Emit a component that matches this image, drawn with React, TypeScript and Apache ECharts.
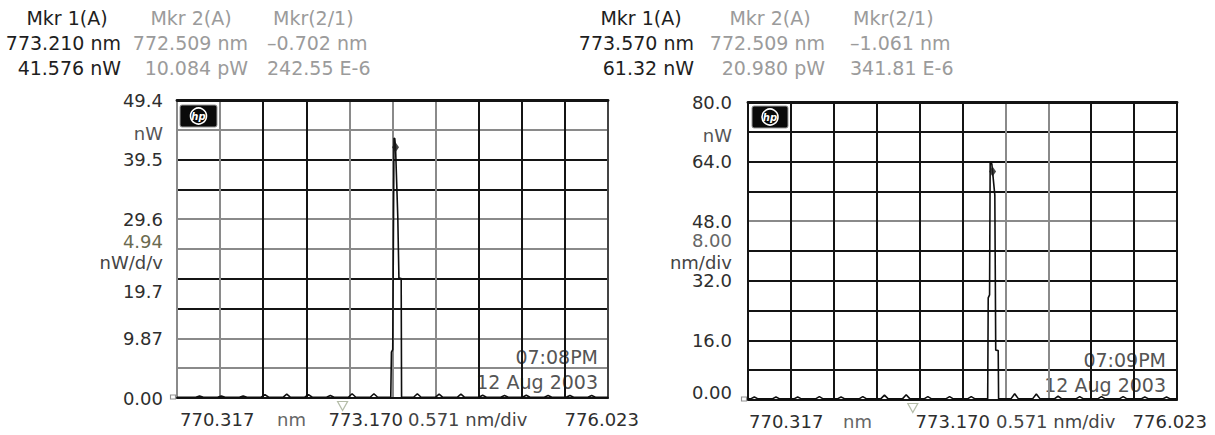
import React, { useEffect, useRef } from "react";
import * as echarts from "echarts";

// ---------- DATA ----------
// Left trace: wavelength (nm), power (nW)
const leftTrace: [number, number][] = [
  [770.317, 0.12],
  [770.566, 0.12], [770.616, 0.35], [770.666, 0.12],
  [770.854, 0.12], [770.904, 0.35], [770.954, 0.12],
  [771.143, 0.12], [771.193, 0.35], [771.243, 0.12],
  [771.431, 0.12], [771.481, 0.55], [771.531, 0.12],
  [771.720, 0.12], [771.770, 0.65], [771.820, 0.12],
  [772.008, 0.12], [772.058, 0.55], [772.108, 0.12],
  [772.297, 0.12], [772.347, 0.40], [772.397, 0.12],
  [772.585, 0.12], [772.635, 0.70], [772.685, 0.12],
  [772.874, 0.12], [772.924, 0.70], [772.974, 0.12],
  [773.147, 0.15], [773.156, 7.6], [773.173, 8.0], [773.190, 43.1], [773.200, 43.0],
  [773.210, 41.6], [773.240, 30.0], [773.255, 19.9], [773.285, 19.8], [773.290, 0.15],
  [773.449, 0.12], [773.499, 0.70], [773.549, 0.12],
  [773.737, 0.12], [773.787, 0.65], [773.837, 0.12],
  [774.026, 0.12], [774.076, 0.65], [774.126, 0.12],
  [774.314, 0.12], [774.364, 0.45], [774.414, 0.12],
  [774.603, 0.12], [774.653, 0.40], [774.703, 0.12],
  [774.891, 0.12], [774.941, 0.45], [774.991, 0.12],
  [775.180, 0.12], [775.230, 0.40], [775.280, 0.12],
  [775.469, 0.12], [775.519, 0.40], [775.569, 0.12],
  [775.757, 0.12], [775.807, 0.40], [775.857, 0.12],
  [776.023, 0.12],
];

// Right trace: wavelength (nm), power (nW)
const rightTrace: [number, number][] = [
  [770.317, 0.30],
  [770.351, 0.30], [770.401, 0.80], [770.451, 0.30],
  [770.639, 0.30], [770.689, 0.80], [770.739, 0.30],
  [770.928, 0.30], [770.978, 0.80], [771.028, 0.30],
  [771.216, 0.30], [771.266, 0.90], [771.316, 0.30],
  [771.505, 0.30], [771.555, 0.80], [771.605, 0.30],
  [771.794, 0.30], [771.844, 0.90], [771.894, 0.30],
  [772.082, 0.30], [772.132, 1.30], [772.182, 0.30],
  [772.371, 0.30], [772.421, 1.40], [772.471, 0.30],
  [772.659, 0.30], [772.709, 0.90], [772.759, 0.30],
  [772.948, 0.30], [772.998, 0.90], [773.048, 0.30],
  [773.236, 0.30], [773.286, 0.90], [773.336, 0.30],
  [773.505, 0.30], [773.512, 27.4], [773.530, 28.2], [773.538, 63.6], [773.560, 63.4],
  [773.570, 61.3], [773.600, 55.0], [773.612, 13.4], [773.645, 13.3], [773.650, 0.30],
  [773.814, 0.30], [773.864, 1.70], [773.914, 0.30],
  [774.102, 0.30], [774.152, 1.60], [774.202, 0.30],
  [774.391, 0.30], [774.441, 1.00], [774.491, 0.30],
  [774.679, 0.30], [774.729, 0.90], [774.779, 0.30],
  [774.968, 0.30], [775.018, 0.90], [775.068, 0.30],
  [775.257, 0.30], [775.307, 0.90], [775.357, 0.30],
  [775.545, 0.30], [775.595, 0.80], [775.645, 0.30],
  [775.834, 0.30], [775.884, 0.80], [775.934, 0.30],
  [776.023, 0.30],
];

const xStart = 770.317;
const xEnd = 776.023;

const leftYMax = 49.4;
const leftYDiv = 4.94;
const rightYMax = 80.0;
const rightYDiv = 8.0;

const leftYTickLabels = ["0.00", "", "9.87", "", "19.7", "", "29.6", "", "39.5", "", "49.4"];
const rightYTickLabels = ["0.00", "", "16.0", "", "32.0", "", "48.0", "", "64.0", "", "80.0"];

const bottomLabels = ["770.317", "nm", "773.170", "0.571 nm/div", "776.023"];

const leftMkr1: [number, number] = [773.21, 41.576];
const leftMkr2: [number, number] = [772.509, 0];
const rightMkr1: [number, number] = [773.57, 61.32];
const rightMkr2: [number, number] = [772.509, 0];

const leftHeader = [
  ["Mkr 1(A)", "Mkr 2(A)", "Mkr(2/1)"],
  ["773.210 nm", "772.509 nm", "–0.702 nm"],
  ["41.576 nW", "10.084 pW", "242.55 E-6"],
];
const rightHeader = [
  ["Mkr 1(A)", "Mkr 2(A)", "Mkr(2/1)"],
  ["773.570 nm", "772.509 nm", "–1.061 nm"],
  ["61.32 nW", "20.980 pW", "341.81 E-6"],
];

const leftUnits = ["nW", "4.94", "nW/d/v"];
const rightUnits = ["nW", "8.00", "nm/div"];

const leftStamp = ["07:08PM", "12 Aug 2003"];
const rightStamp = ["07:09PM", "12 Aug 2003"];

// ---------- STYLE ----------
const FONT = "DejaVu Sans";
const D = "#141414";
const G = "#8a8a8a";
const leftVColors = [G, G, D, D, G, G, G, D, D, D, "#444"];
const leftHColors = [D, G, G, D, D, G, G, D, D, G, D];
const rightVColors = [D, D, D, D, D, D, G, G, D, D, D];
const rightHColors = [D, D, D, D, D, D, G, D, D, D, D];

const grids = [
  { left: 177, top: 100, width: 431, height: 298 },
  { left: 748, top: 102, width: 429, height: 298 },
];

function txt(x: number, y: number, text: string, fill: string, align: string, size = 18, extra: any = {}) {
  return {
    type: "text",
    x,
    y,
    silent: true,
    style: {
      text,
      fill,
      fontSize: size,
      fontFamily: FONT,
      align,
      textAlign: align,
      verticalAlign: "middle",
      textVerticalAlign: "middle",
      ...extra,
    },
  };
}

function logo(x: number, y: number, w: number, h: number) {
  return {
    type: "group",
    x,
    y,
    silent: true,
    z: 10,
    children: [
      { type: "rect", shape: { x: 0, y: 0, width: w, height: h, r: 2 }, style: { fill: "#0a0a0a", stroke: "#9a9a9a", lineWidth: 1 } },
      { type: "circle", shape: { cx: w / 2, cy: h / 2, r: 8 }, style: { fill: "none", stroke: "#fff", lineWidth: 1.6 } },
      {
        type: "text",
        x: w / 2,
        y: h / 2,
        style: {
          text: "hp",
          fill: "#fff",
          fontSize: 10,
          fontStyle: "italic",
          fontWeight: "bold",
          fontFamily: FONT,
          align: "center",
          textAlign: "center",
          verticalAlign: "middle",
          textVerticalAlign: "middle",
        },
      },
    ],
  };
}

function headerGraphics(rows: string[][], row1: number[], rowN: number[]) {
  const ys = [18, 43, 68];
  const out: any[] = [];
  rows.forEach((row, r) => {
    row.forEach((t, c) => {
      const color = c === 0 ? "#1e1e1e" : "#9b9b9b";
      if (r === 0) {
        out.push(txt(row1[c], ys[r], t, color, c === 2 ? "left" : "center", 19));
      } else {
        out.push(txt(rowN[c], ys[r], t, color, c === 2 ? "left" : "right", 19));
      }
    });
  });
  return out;
}

export default function App() {
  const ref = useRef<HTMLDivElement>(null);

  useEffect(() => {
    document.body.style.margin = "0";
    if (!ref.current) return;
    const chart = echarts.init(ref.current, null, { renderer: "svg" });

    const xAxisPair = (gridIndex: number, vColors: string[]) => [
      {
        type: "value",
        gridIndex,
        min: xStart,
        max: xEnd,
        position: "bottom",
        axisLine: { show: true, onZero: false, lineStyle: { color: D, width: 2.2 } },
        axisTick: { show: false },
        axisLabel: { show: false },
        splitLine: { show: false },
      },
      {
        type: "value",
        gridIndex,
        min: 0,
        max: 10,
        interval: 1,
        position: "top",
        axisLine: { show: true, onZero: false, lineStyle: { color: D, width: 2.8 } },
        axisTick: { show: false },
        axisLabel: { show: false },
        splitLine: { show: true, showMinLine: true, showMaxLine: true, lineStyle: { color: vColors, width: 2 } },
      },
    ];

    const yAxis = (gridIndex: number, max: number, div: number, labels: string[], hColors: string[], margin: number, lh: number, shift: Record<number, string>) => ({
      type: "value",
      gridIndex,
      min: 0,
      max,
      interval: div,
      axisLine: { show: false },
      axisTick: { show: false },
      splitLine: { show: true, showMinLine: true, showMaxLine: true, lineStyle: { color: hColors, width: 2 } },
      axisLabel: {
        show: true,
        interval: 0,
        margin,
        color: "#2e2e2e",
        fontSize: 18,
        fontFamily: FONT,
        lineHeight: lh,
        formatter: (v: number) => {
          const i = Math.round(v / div);
          const s = labels[i] ?? "";
          if (!s) return "";
          if (shift[i] === "down") return "\n" + s;
          if (shift[i] === "up") return s + "\n";
          return s;
        },
      },
    });

    const markerSeries = (xi: number, yi: number, m1: [number, number], m2: [number, number]) => [
      {
        type: "scatter",
        xAxisIndex: xi,
        yAxisIndex: yi,
        data: [m1],
        symbol: "diamond",
        symbolSize: [7, 10],
        itemStyle: { color: "#1a1a1a" },
        silent: true,
        z: 5,
      },
      {
        type: "scatter",
        xAxisIndex: xi,
        yAxisIndex: yi,
        data: [m2],
        clip: false,
        symbol: "triangle",
        symbolRotate: 180,
        symbolSize: [10, 9],
        symbolOffset: [0, 8],
        itemStyle: { color: "rgba(0,0,0,0)", borderColor: "#a3ad93", borderWidth: 1.2 },
        silent: true,
      },
      {
        type: "scatter",
        xAxisIndex: xi,
        yAxisIndex: yi,
        data: [[xStart, 0]],
        clip: false,
        symbol: "rect",
        symbolSize: [5, 4],
        symbolOffset: [-4, -1],
        itemStyle: { color: "rgba(0,0,0,0)", borderColor: "#777", borderWidth: 1 },
        silent: true,
      },
    ];

    const graphic: any[] = [
      ...headerGraphics(leftHeader, [67, 191, 273], [121, 248, 267]),
      ...headerGraphics(rightHeader, [641, 770, 853], [694, 825, 850]),
      txt(163, 133, leftUnits[0], "#555", "right"),
      txt(163, 241, leftUnits[1], "#6b6b50", "right"),
      txt(163, 262, leftUnits[2], "#444", "right"),
      txt(732, 135, rightUnits[0], "#555", "right"),
      txt(732, 240, rightUnits[1], "#666", "right"),
      txt(732, 262, rightUnits[2], "#444", "right"),
      txt(180, 419, bottomLabels[0], "#2e2e2e", "left"),
      txt(277, 419, bottomLabels[1], "#666", "left"),
      txt(403, 419, bottomLabels[2], "#2e2e2e", "right"),
      txt(408, 419, bottomLabels[3], "#444", "left"),
      txt(639, 419, bottomLabels[4], "#2e2e2e", "right"),
      txt(749, 421, bottomLabels[0], "#2e2e2e", "left"),
      txt(843, 421, bottomLabels[1], "#666", "left"),
      txt(990, 421, bottomLabels[2], "#2e2e2e", "right"),
      txt(996, 421, bottomLabels[3], "#444", "left"),
      txt(1207, 421, bottomLabels[4], "#2e2e2e", "right"),
      txt(598, 357, leftStamp[0], "#555", "right", 19),
      txt(598, 382, leftStamp[1], "#555", "right", 19),
      txt(1166, 360, rightStamp[0], "#555", "right", 19),
      txt(1166, 385, rightStamp[1], "#555", "right", 19),
      logo(180, 105, 37, 22),
      logo(752, 106, 36, 22),
    ];

    chart.setOption({
      animation: false,
      backgroundColor: "#fff",
      grid: grids.map((g) => ({ ...g, containLabel: false })),
      xAxis: [...xAxisPair(0, leftVColors), ...xAxisPair(1, rightVColors)],
      yAxis: [
        yAxis(0, leftYMax, leftYDiv, leftYTickLabels, leftHColors, 14, 26, { 4: "down" }),
        yAxis(1, rightYMax, rightYDiv, rightYTickLabels, rightHColors, 16, 16, { 0: "up" }),
      ],
      series: [
        {
          type: "line",
          xAxisIndex: 0,
          yAxisIndex: 0,
          data: leftTrace,
          showSymbol: false,
          lineStyle: { color: "#0e0e0e", width: 1.6 },
          silent: true,
          z: 4,
        },
        {
          type: "line",
          xAxisIndex: 2,
          yAxisIndex: 1,
          data: rightTrace,
          showSymbol: false,
          lineStyle: { color: "#0e0e0e", width: 1.6 },
          silent: true,
          z: 4,
        },
        ...markerSeries(0, 0, leftMkr1, leftMkr2),
        ...markerSeries(2, 1, rightMkr1, rightMkr2),
      ],
      graphic,
    });

    return () => chart.dispose();
  }, []);

  return <div ref={ref} style={{ width: 1215, height: 435 }} />;
}
